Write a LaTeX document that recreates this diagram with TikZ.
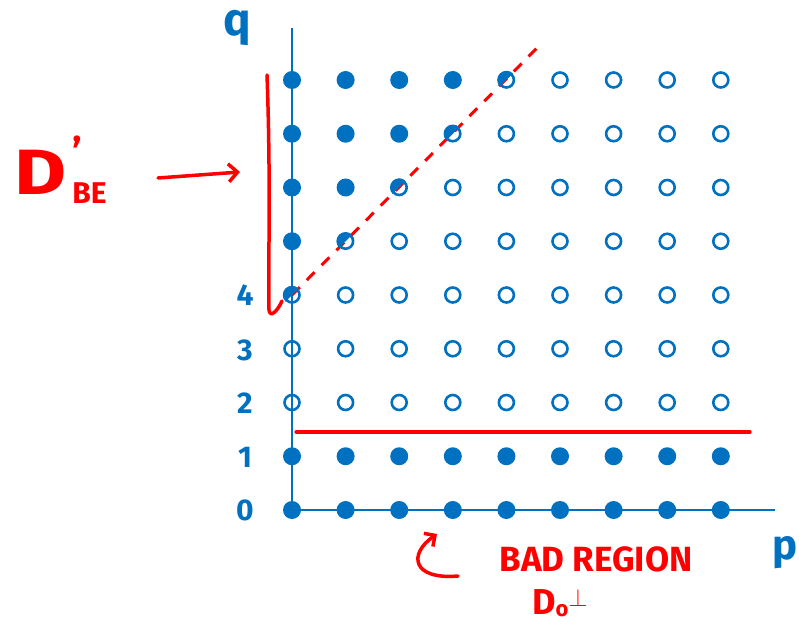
\documentclass[tikz,border=0pt]{standalone}
\usepackage{fontspec}
\setmainfont{Fira Sans}
\usetikzlibrary{arrows.meta}
\definecolor{pblue}{RGB}{0,112,192}
\definecolor{pred}{RGB}{255,0,0}
\begin{document}
\begin{tikzpicture}[x=1pt,y=1pt,
  dot/.style={circle,minimum size=18pt,inner sep=0pt,fill=pblue},
  odot/.style={circle,minimum size=15pt,inner sep=0pt,draw=pblue,line width=2.6pt},
  axis/.style={draw=pblue,line width=2.6pt},
  lbl/.style={text=pblue,font=\fontsize{30}{30}\selectfont\bfseries},
  redline/.style={draw=pred,line width=3.5pt,line cap=round},
  redtxt/.style={text=pred,inner sep=0pt},
]
\useasboundingbox (0,0) rectangle (799,624);
% axes
\coordinate (O) at (292,114);
\coordinate (qtop) at (292,596);
\coordinate (pend) at (775,114);
\draw[axis] (qtop) -- (O) -- (pend);
% red lines under dots
\coordinate (d0) at (292,329);
\coordinate (dend) at (540,579);
\draw[draw=pred,line width=3pt,dash pattern=on 11pt off 10pt] (d0) -- (dend);
\coordinate (h1) at (296,192);
\coordinate (h2) at (750,192);
\draw[redline,line width=3.2pt] (h1) -- (h2);
% dots
\foreach \p in {0,...,8}{
  \foreach \q in {0,...,8}{
    \pgfmathtruncatemacro{\dd}{\q-4}
    \pgfmathsetmacro{\xx}{292+53.6*\p}
    \pgfmathsetmacro{\yy}{114+53.75*\q}
    \ifnum\q<2
      \node[dot] (n\p-\q) at (\xx,\yy) {};
    \else\ifnum\q<4
      \node[odot] (n\p-\q) at (\xx,\yy) {};
    \else\ifnum\p<\dd
      \node[dot] (n\p-\q) at (\xx,\yy) {};
    \else\ifnum\p=\dd
      \fill[pblue] (\xx,\yy) ++(45:9.2) arc[start angle=45,end angle=225,radius=9.2] -- cycle;
      \node[odot] (n\p-\q) at (\xx,\yy) {};
    \else
      \node[odot] (n\p-\q) at (\xx,\yy) {};
    \fi\fi\fi\fi
  }
}
% axis labels
\node[lbl] (l0) at (245,114) {0};
\node[lbl] (l1) at (245,167) {1};
\node[lbl] (l2) at (245,221) {2};
\node[lbl] (l3) at (245,274) {3};
\node[lbl] (l4) at (245,329) {4};
\node[lbl,font=\fontsize{46}{46}\selectfont\bfseries] (lq) at (237,596) {q};
\node[lbl,font=\fontsize{42}{42}\selectfont\bfseries] (lp) at (785,71) {p};
% bracket
\coordinate (b1) at (267,549);
\coordinate (b2) at (282,323);
\draw[redline] (b1) .. controls (271,440) and (268,360) .. (269,314) .. controls (270,306) and (277,312) .. (b2);
% D'_BE label and arrow
\node[redtxt,anchor=base west,font=\fontsize{64}{64}\selectfont\bfseries] (dbe) at (14,429)
  {\scalebox{1.25}[1]{D}\kern6pt\rlap{\raisebox{28pt}{\fontsize{40}{40}\selectfont '}}\raisebox{-9pt}{\fontsize{30}{30}\selectfont BE}};
\coordinate (a1) at (158,446);
\coordinate (a2) at (240,452);
\draw[redline,-{Straight Barb[length=9pt,width=18pt]}] (a1) -- (a2);
% bad region
\coordinate (c1) at (458,48);
\coordinate (c2) at (437,90);
\draw[redline,-{Straight Barb[length=8pt,width=16pt]}] (c1) .. controls (412,44) and (408,70) .. (c2);
\node[redtxt,font=\fontsize{35}{35}\selectfont\bfseries] (bad) at (596,65) {BAD REGION};
\node[redtxt,anchor=base west,font=\fontsize{36}{36}\selectfont\bfseries] (dz) at (532,10) {D\raisebox{-2pt}{\fontsize{22}{22}\selectfont o}\raisebox{8pt}{$\perp$}};
\end{tikzpicture}
\end{document}
